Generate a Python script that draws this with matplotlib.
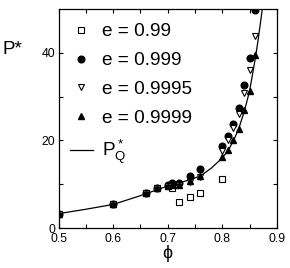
import numpy as np
import matplotlib
matplotlib.use("Agg")
import matplotlib.pyplot as plt

plt.rcParams['font.family'] = ['Liberation Sans', 'DejaVu Sans']
plt.rcParams['mathtext.fontset'] = 'custom'
plt.rcParams['mathtext.rm'] = 'Liberation Sans'
plt.rcParams['mathtext.it'] = 'Liberation Sans'

# ---- datos ----
phi_099 = [0.50, 0.60, 0.66, 0.68, 0.70, 0.708, 0.72, 0.74, 0.76, 0.80]
P_099 = [3.3, 5.5, 8.0, 9.1, 9.6, 9.2, 6.0, 7.0, 8.1, 11.1]

phi_0999 = [0.50, 0.60, 0.66, 0.68, 0.70, 0.707, 0.72, 0.74, 0.76,
            0.80, 0.81, 0.82, 0.83, 0.84, 0.85, 0.86]
P_0999 = [3.3, 5.5, 8.1, 9.2, 9.9, 10.2, 10.4, 11.9, 13.4,
          18.8, 21.0, 23.7, 27.4, 32.6, 38.9, 49.7]

phi_09995 = [0.50, 0.60, 0.66, 0.68, 0.70, 0.72, 0.74, 0.76,
             0.80, 0.81, 0.82, 0.83, 0.84, 0.85, 0.86]
P_09995 = [3.3, 5.5, 8.0, 9.1, 9.6, 9.8, 10.6, 11.6,
           17.6, 20.0, 22.9, 26.0, 30.9, 36.0, 43.8]

phi_09999 = [0.50, 0.60, 0.66, 0.68, 0.70, 0.71, 0.72, 0.74, 0.76,
             0.80, 0.81, 0.82, 0.83, 0.84, 0.85, 0.86]
P_09999 = [3.3, 5.5, 8.0, 9.1, 9.7, 9.8, 9.9, 10.8, 12.0,
           16.2, 17.8, 20.1, 22.6, 26.9, 31.4, 39.5]

# curva P*_Q leida punto a punto
phi_Q = [0.50, 0.55, 0.60, 0.65, 0.70, 0.72, 0.74, 0.76, 0.78, 0.80,
         0.81, 0.82, 0.83, 0.84, 0.85, 0.86, 0.865, 0.87, 0.875]
P_Q = [3.3, 4.3, 5.4, 7.4, 9.6, 10.3, 11.0, 11.9, 13.7, 16.0,
       17.6, 19.8, 22.6, 26.5, 31.2, 38.3, 42.3, 46.8, 51.5]

xticks = [0.5, 0.55, 0.6, 0.65, 0.7, 0.75, 0.8, 0.85, 0.9]
xticklabels = ['0.5', '', '0.6', '', '0.7', '', '0.8', '', '0.9']
yticks = [0, 10, 20, 30, 40]
yticklabels = ['0', '', '20', '', '40']

fig = plt.figure(figsize=(2.9, 2.68), dpi=100)
ax = fig.add_axes([0.2024, 0.149, 0.752, 0.817])

ax.plot(phi_099, P_099, 's', ms=4.5, mfc='white', mec='black', mew=0.8,
        label='e = 0.99', zorder=3)
ax.plot(phi_0999, P_0999, 'o', ms=4.8, color='black',
        label='e = 0.999', zorder=3)
ax.plot(phi_09995, P_09995, 'v', ms=5, mfc='white', mec='black', mew=0.8,
        label='e = 0.9995', zorder=3)
ax.plot(phi_09999, P_09999, '^', ms=5, color='black',
        label='e = 0.9999', zorder=3)
ax.plot(phi_Q, P_Q, '-', color='black', lw=0.9, label=r'$\mathregular{P_Q^*}$',
        zorder=2)

ax.set_xlim(0.5, 0.9)
ax.set_ylim(0, 50)
ax.set_xticks(xticks)
ax.set_xticklabels(xticklabels)
ax.set_yticks(yticks)
ax.set_yticklabels(yticklabels)
ax.tick_params(direction='in', top=True, right=True, length=3, width=0.8,
               labelsize=8.7)
ax.tick_params(axis='x', pad=3.5)
ax.tick_params(axis='y', pad=2.5)
for s in ax.spines.values():
    s.set_linewidth(0.9)

ax.set_xlabel('ϕ', fontsize=13, labelpad=0)
ax.set_ylabel('P*', fontsize=13.5, rotation=0)
ax.yaxis.set_label_coords(-0.214, 0.775)

ax.legend(loc='upper left', bbox_to_anchor=(0.052, 0.936), frameon=False,
          fontsize=13.7, handlelength=1.2, handletextpad=0.47,
          labelspacing=0.6, borderaxespad=0, borderpad=0, numpoints=1)

fig.savefig('out.png', dpi=100)
